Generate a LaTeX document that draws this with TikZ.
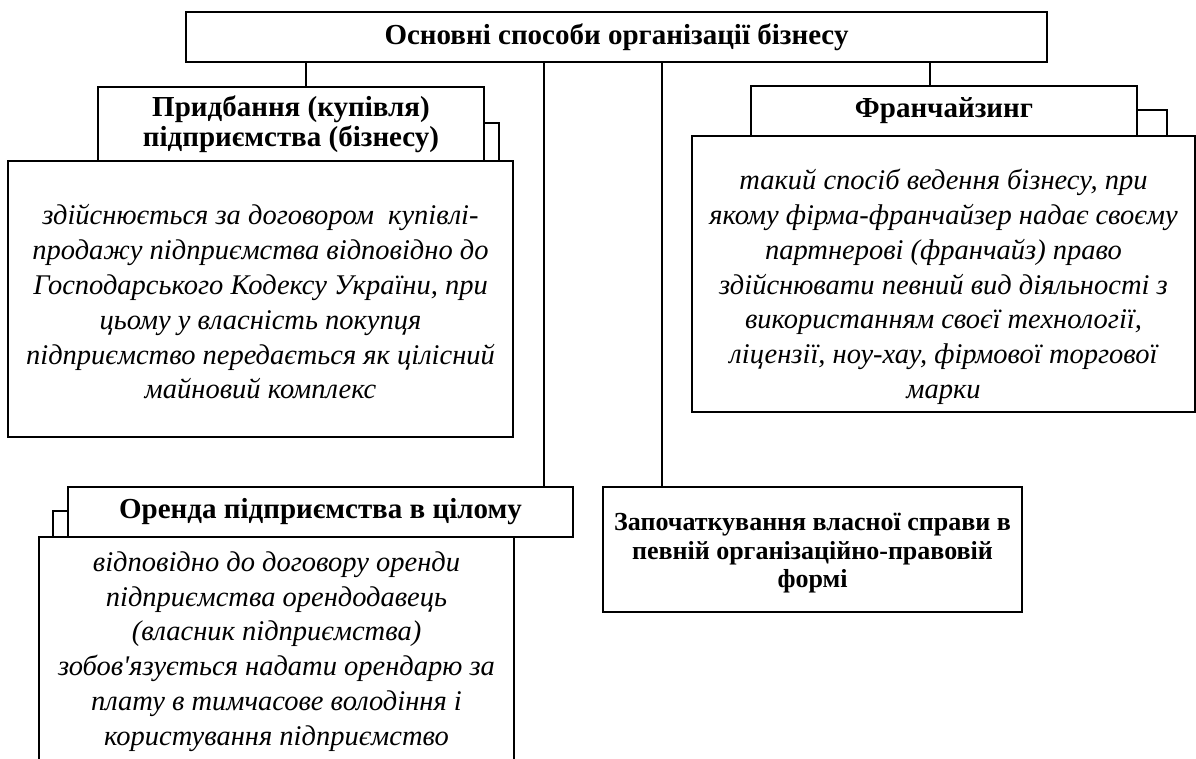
\documentclass[tikz,border=0pt]{standalone}
\usepackage{fontspec}
\setmainfont{Liberation Serif}[Ligatures=TeXOff]
\begin{document}
\begin{tikzpicture}[x=1pt,y=-1pt,line width=1.2pt,
  box/.style={draw, rectangle, inner sep=0pt, outer sep=0pt, anchor=north west},
  ttl/.style={font=\fontsize{29}{30}\selectfont\bfseries, align=center},
  sttl/.style={font=\fontsize{26}{28.5}\selectfont\bfseries, align=center},
  body/.style={font=\fontsize{28.5}{34.8}\selectfont\itshape, align=center}]
\useasboundingbox (0,0) rectangle (1196,758);
% top
\node[box, ttl, minimum width=861pt, minimum height=50pt] (top) at (186,12) {Основні способи організації бізнесу};
% left branch
\node[box, ttl, minimum width=386pt, minimum height=74pt] (t1) at (98,87) {Придбання (купівля)\\підприємства (бізнесу)};
\node[box, minimum width=505pt, minimum height=276pt] (c1) at (8,161) {};
\node[body] (c1txt) at ([yshift=-3pt]c1.center) {здійснюється за договором\ \ купівлі-\\продажу підприємства відповідно до\\Господарського Кодексу України, при\\цьому у власність покупця\\підприємство передається як цілісний\\майновий комплекс};
\draw ([yshift=-36pt]t1.north east) -| ([xshift=15pt]t1.south east);
% right branch
\node[box, ttl, minimum width=386pt, minimum height=50pt] (t2) at (751,86) {Франчайзинг};
\node[box, minimum width=503pt, minimum height=276pt] (c2) at (692,136) {};
\node[body] (c2txt) at ([yshift=-13pt]c2.center) {такий спосіб ведення бізнесу, при\\якому фірма-франчайзер надає своєму\\партнерові (франчайз) право\\здійснювати певний вид діяльності з\\використанням своєї технології,\\ліцензії, ноу-хау, фірмової торгової\\марки};
\draw ([yshift=-24pt]t2.north east) -| ([xshift=30pt]t2.south east);
% bottom left
\node[box, ttl, minimum width=505pt, minimum height=50pt] (t3) at (68,487) {Оренда підприємства в цілому};
\node[box, draw=none, minimum width=475pt, minimum height=223pt] (c3) at (39,537) {};
\draw (c3.south west) -- (c3.north west) -- (c3.north east) -- (c3.south east);
\node[body] (c3txt) at ([yshift=-3pt]c3.center) {відповідно до договору оренди\\підприємства орендодавець\\(власник підприємства)\\зобов'язується надати орендарю за\\плату в тимчасове володіння і\\користування підприємство};
\draw ([yshift=-24pt]t3.north west) -| ([xshift=-15pt]t3.south west);
% start box
\node[box, minimum width=419pt, minimum height=125pt] (st) at (603,487) {};
\node[sttl] (sttxt) at ([yshift=-4pt]st.center) {Започаткування власної справи в\\певній організаційно-правовій\\формі};
% connectors
\coordinate (x1) at (306,0);
\coordinate (x2) at (544,0);
\coordinate (x3) at (662,0);
\coordinate (x4) at (930,0);
\draw (top.south -| x1) -- (t1.north -| x1);
\draw (top.south -| x2) -- (t3.north -| x2);
\draw (top.south -| x3) -- (st.north -| x3);
\draw (top.south -| x4) -- (t2.north -| x4);
\end{tikzpicture}
\end{document}
